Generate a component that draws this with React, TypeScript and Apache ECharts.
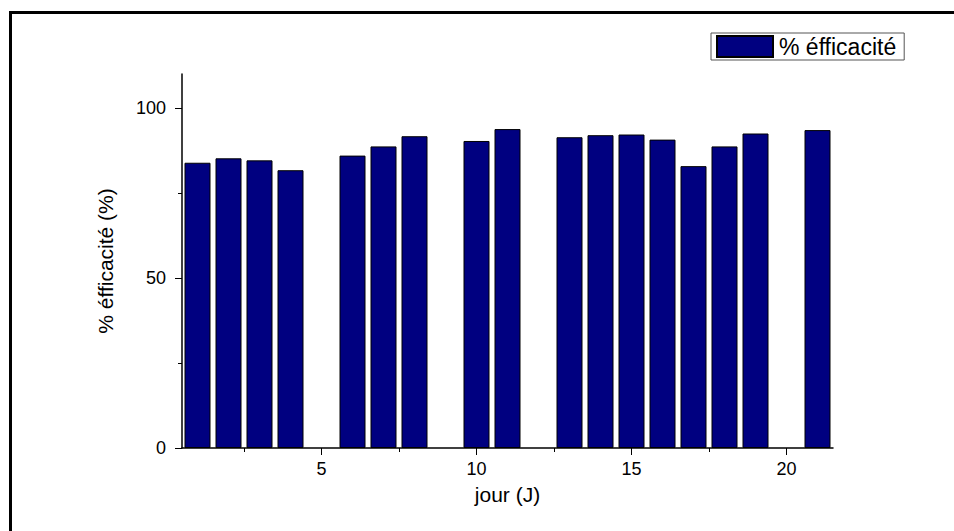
import React, { useEffect, useRef } from "react";
import * as echarts from "echarts";

const days = [1, 2, 3, 4, 6, 7, 8, 10, 11, 13, 14, 15, 16, 17, 18, 19, 21];
const efficacite = [83.9, 85.2, 84.6, 81.7, 86.0, 88.7, 91.7, 90.3, 93.8, 91.4, 92.0, 92.2, 90.7, 82.9, 88.7, 92.5, 93.5];
const xMajorTicks = [5, 10, 15, 20];
const xMinorTicks = [2.5, 7.5, 12.5, 17.5];
const yMajorTicks = [0, 50, 100];
const yMinorTicks = [25, 75];
const seriesName = "% éfficacité";

const FONT = "Liberation Sans, Arial, sans-serif";

export default function App() {
  const ref = useRef<HTMLDivElement>(null);
  useEffect(() => {
    document.body.style.margin = "0";
    const chart = echarts.init(ref.current!, null, { renderer: "svg" });
    const axisLine = { show: true, lineStyle: { color: "#000", width: 1.5 } };
    chart.setOption({
      animation: false,
      backgroundColor: "#fff",
      grid: { left: 182, right: 121, top: 74, bottom: 83 },
      legend: {
        data: [{ name: seriesName, icon: "rect" }],
        left: 711,
        top: 33,
        padding: [2, 8, 2, 5],
        itemWidth: 56,
        itemHeight: 21,
        itemGap: 6,
        borderColor: "#555",
        borderWidth: 1,
        textStyle: { fontFamily: FONT, fontSize: 23, color: "#000", padding: [0, 0, 0, 1] },
      },
      xAxis: [
        {
          type: "value",
          min: 0.5,
          max: 21.5,
          axisLine,
          splitLine: { show: false },
          axisTick: { show: true, customValues: xMajorTicks, length: 7, lineStyle: { color: "#000" } },
          axisLabel: { customValues: xMajorTicks, fontFamily: FONT, fontSize: 18, color: "#000", margin: 12 },
          name: "jour (J)",
          nameLocation: "middle",
          nameGap: 36,
          nameTextStyle: { fontFamily: FONT, fontSize: 21, color: "#000" },
        },
        {
          type: "value",
          min: 0.5,
          max: 21.5,
          position: "bottom",
          axisLine: { show: false },
          splitLine: { show: false },
          axisTick: { show: true, customValues: xMinorTicks, length: 4, lineStyle: { color: "#000" } },
          axisLabel: { show: false },
        },
      ],
      yAxis: [
        {
          type: "value",
          min: 0,
          max: 110,
          axisLine,
          splitLine: { show: false },
          axisTick: { show: true, customValues: yMajorTicks, length: 7, lineStyle: { color: "#000" } },
          axisLabel: { customValues: yMajorTicks, fontFamily: FONT, fontSize: 18, color: "#000", margin: 16 },
          name: "% éfficacité (%)",
          nameLocation: "middle",
          nameGap: 66,
          nameTextStyle: { fontFamily: FONT, fontSize: 21, color: "#000" },
        },
        {
          type: "value",
          min: 0,
          max: 110,
          position: "left",
          axisLine: { show: false },
          splitLine: { show: false },
          axisTick: { show: true, customValues: yMinorTicks, length: 4, lineStyle: { color: "#000" } },
          axisLabel: { show: false },
        },
      ],
      series: [
        {
          name: seriesName,
          type: "bar",
          xAxisIndex: 0,
          yAxisIndex: 0,
          barWidth: 26,
          data: days.map((d, i) => [d, efficacite[i]]),
          itemStyle: { color: "#000080", borderColor: "#000", borderWidth: 1 },
        },
      ],
      graphic: [
        {
          type: "rect",
          shape: { x: 10.5, y: 12.5, width: 960, height: 540 },
          style: { fill: "none", stroke: "#000", lineWidth: 3 },
          silent: true,
        },
      ],
    });
    return () => chart.dispose();
  }, []);
  return <div ref={ref} style={{ width: 954, height: 531 }} />;
}
